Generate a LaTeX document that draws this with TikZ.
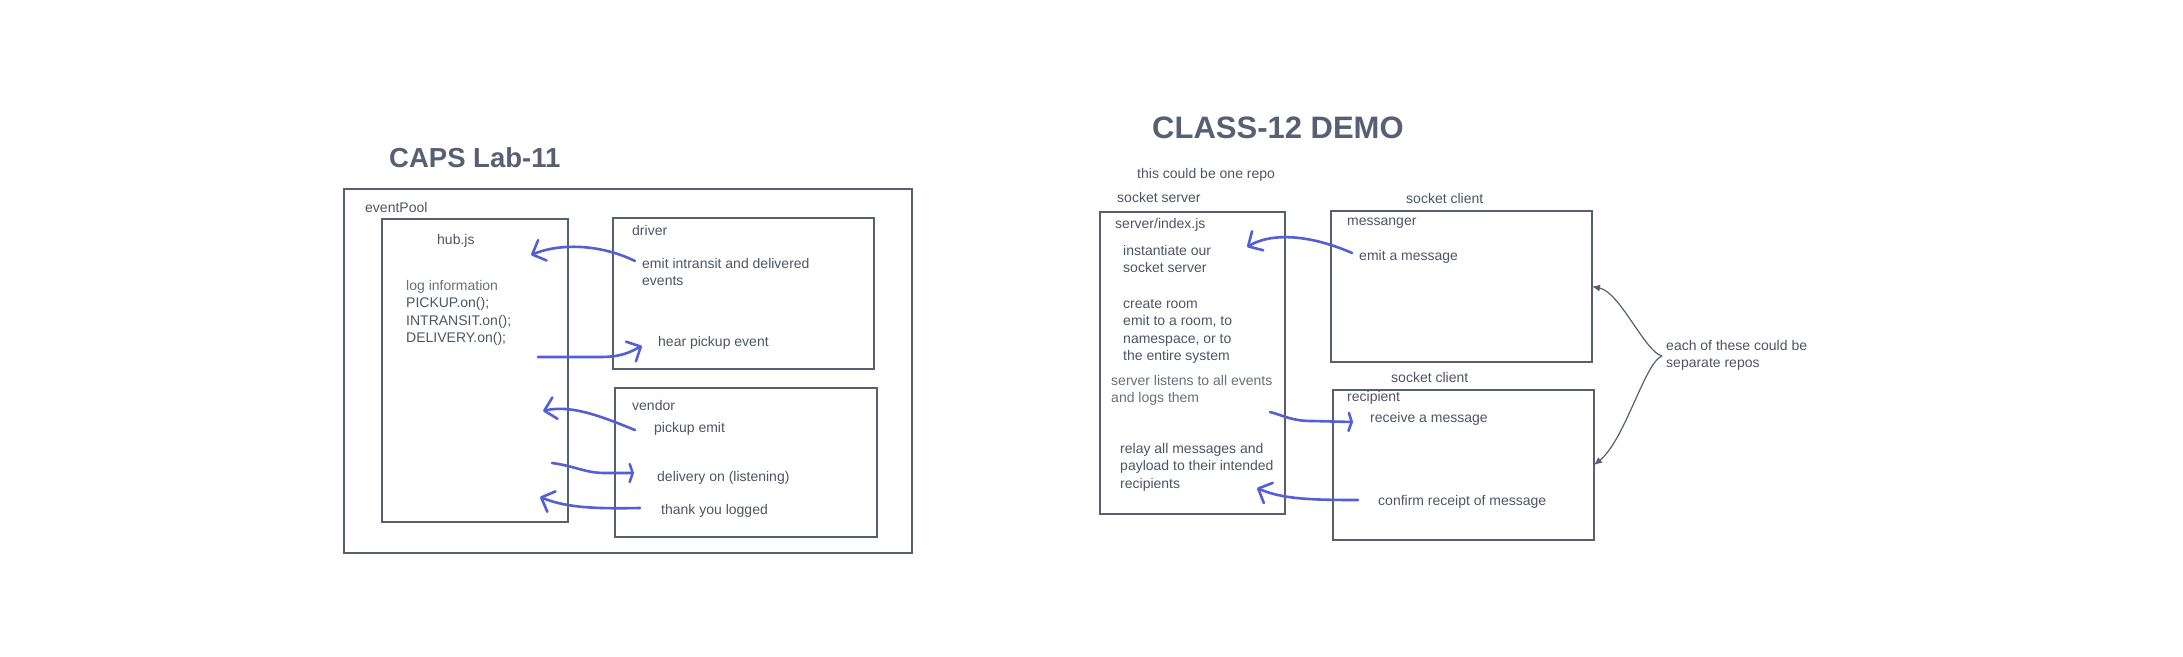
\documentclass[tikz,border=0pt]{standalone}
\usepackage{fontspec}
\setmainfont{Liberation Sans}
\usetikzlibrary{arrows.meta}
\definecolor{slate}{RGB}{88,95,114}
\definecolor{inkgray}{RGB}{78,84,100}
\definecolor{softgray}{RGB}{104,110,124}
\definecolor{penblue}{RGB}{82,95,214}

\begin{document}
\begin{tikzpicture}[x=1pt, y=-1pt,
		box/.style={draw=slate, line width=2.6pt, anchor=north west, inner sep=0pt, outer sep=0pt},
		txt/.style={anchor=base west, inner sep=0pt, text=inkgray, font=\fontsize{14}{17.6}\selectfont, align=left},
		faint/.style={txt, text=softgray},
		heading/.style={anchor=base west, inner sep=0pt, text=slate},
		pen/.style={draw=penblue, line width=2.6pt, line cap=round, line join=round},
		openhead/.style={-{Straight Barb[length=11pt, width=22pt, round]}},
		flathead/.style={-{Straight Barb[length=3pt, width=18pt, round]}},
		note/.style={draw=slate, line width=1.2pt, -{Latex[length=8pt, width=7pt]}}]
			%%%%% START %%%%%
			
			\useasboundingbox (0,0) rectangle (2183,656);
			
			% CAPS Lab-11 (multi-line texts sit on the baseline of their last line)
			\node[heading, font=\fontsize{27.5}{33}\selectfont\bfseries] (capsTitle) at (389,167) {CAPS Lab-11};
			\node[box, minimum width=568, minimum height=364] (eventPool) at (344,189) {};
			\node[txt] (poolLabel) at (365,212) {eventPool};
			
			\node[box, minimum width=186, minimum height=303] (hub) at (382,219) {};
			\node[txt] (hubLabel) at (437,244) {hub.js};
			\node[faint] (logInfo) at (406,290) {log information};
			\node[txt] (hubCalls) at (406,342.8) {PICKUP.on();\\INTRANSIT.on();\\DELIVERY.on();};
			
			\node[box, minimum width=261, minimum height=151] (driver) at (613,218) {};
			\node[txt] (driverLabel) at (632,235) {driver};
			\node[txt] (driverEmit) at (642,285.6) {emit intransit and delivered\\events};
			\node[txt] (driverHear) at (658,346) {hear pickup event};
			
			\node[box, minimum width=262, minimum height=149] (vendor) at (615,388) {};
			\node[txt] (vendorLabel) at (632,410) {vendor};
			\node[txt] (vendorPickup) at (654,432) {pickup emit};
			\node[txt] (vendorDelivery) at (657,481) {delivery on (listening)};
			\node[txt] (vendorThanks) at (661,514) {thank you logged};
			
			\coordinate (emitTail) at (635,261);
			\coordinate (emitTip) at (531,255);
			\draw[pen, openhead] (emitTail) .. controls (600,244) and (560,243) .. (emitTip);
			\coordinate (hearTail) at (538,357);
			\coordinate (hearTip) at (642,346);
			\draw[pen, openhead] (hearTail) -- (600,357) .. controls (622,357) and (630,352) .. (hearTip);
			\coordinate (pickupTail) at (635,430);
			\coordinate (pickupTip) at (543,411);
			\draw[pen, openhead] (pickupTail) .. controls (605,418) and (572,404) .. (pickupTip);
			\coordinate (deliveryTail) at (552,463);
			\coordinate (deliveryTip) at (634,473);
			\draw[pen, flathead] (deliveryTail) .. controls (575,466) and (585,473) .. (605,473) -- (deliveryTip);
			\coordinate (thanksTail) at (640,508);
			\coordinate (thanksTip) at (540,497);
			\draw[pen, openhead] (thanksTail) .. controls (590,509) and (565,507) .. (thanksTip);
			
			% CLASS-12 DEMO
			\node[heading, font=\fontsize{31}{37}\selectfont\bfseries] (demoTitle) at (1152,138) {CLASS-12 DEMO};
			\node[txt] (oneRepo) at (1137,178) {this could be one repo};
			\node[txt] (serverTag) at (1117,202) {socket server};
			
			\node[box, minimum width=185, minimum height=302] (server) at (1100,212) {};
			\node[txt] (serverLabel) at (1115,228) {server/index.js};
			\node[txt] (serverInit) at (1123,272.6) {instantiate our\\socket server};
			\node[txt] (serverRoom) at (1123,360.8) {create room\\emit to a room, to\\namespace, or to\\the entire system};
			\node[faint] (serverListen) at (1111,402.6) {server listens to all events\\and logs them};
			\node[txt] (serverRelay) at (1120,488.2) {relay all messages and\\payload to their intended\\recipients};
			
			\node[txt] (clientTagA) at (1406,203) {socket client};
			\node[box, minimum width=261, minimum height=151] (messanger) at (1331,211) {};
			\node[txt] (messangerLabel) at (1347,225) {messanger};
			\node[txt] (messangerEmit) at (1359,260) {emit a message};
			
			\node[txt] (clientTagB) at (1391,382) {socket client};
			\node[box, minimum width=261, minimum height=150] (recipient) at (1333,390) {};
			\node[txt] (recipientLabel) at (1347,401) {recipient};
			\node[txt] (recipientGet) at (1370,422) {receive a message};
			\node[txt] (recipientConfirm) at (1378,505) {confirm receipt of message};
			
			\node[txt] (repoNote) at (1666,367.6) {each of these could be\\separate repos};
			\coordinate (noteTip) at (1662,356);
			\draw[note] (noteTip) .. controls (1645,352) and (1620,292) .. (messanger.east);
			\draw[note] (noteTip) .. controls (1645,362) and (1625,440) .. (recipient.east);
			
			\coordinate (msgTail) at (1352,253);
			\coordinate (msgTip) at (1247,247);
			\draw[pen, openhead] (msgTail) .. controls (1318,238) and (1276,230) .. (msgTip);
			\coordinate (relayTail) at (1270,412);
			\coordinate (relayTip) at (1353,422);
			\draw[pen, flathead] (relayTail) .. controls (1285,416) and (1292,421) .. (1312,421) -- (relayTip);
			\coordinate (confirmTail) at (1358,500);
			\coordinate (confirmTip) at (1257,488);
			\draw[pen, openhead] (confirmTail) .. controls (1310,500) and (1282,499) .. (confirmTip);
			
			%%%%% END %%%%%
		\end{tikzpicture}
\end{document}
